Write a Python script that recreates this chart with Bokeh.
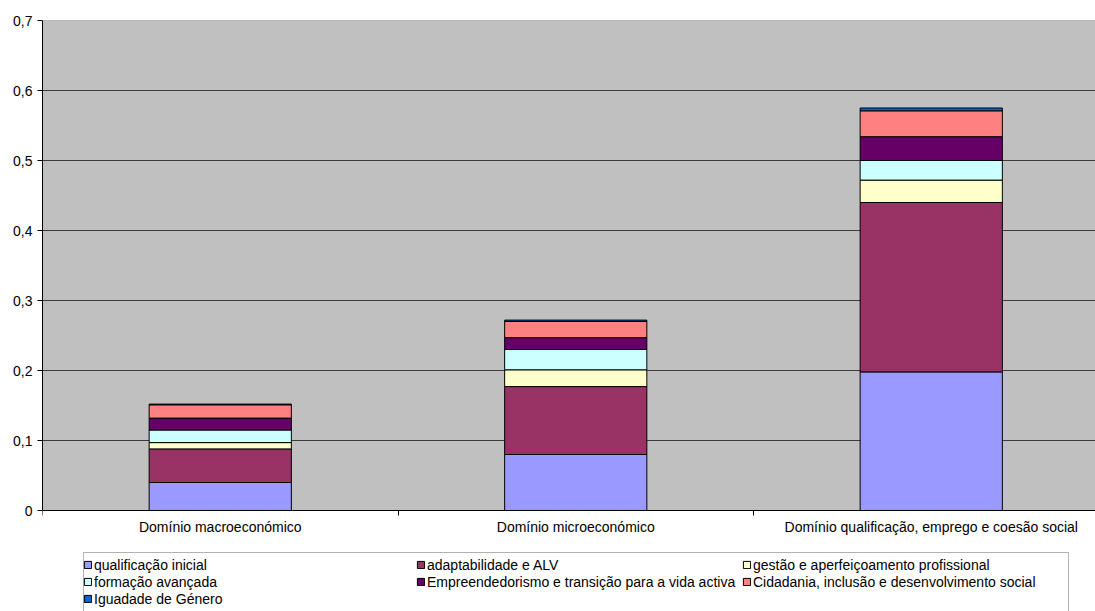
from bokeh.plotting import figure
from bokeh.models import (ColumnDataSource, Range1d, FixedTicker, Legend,
                          LegendItem, BoxAnnotation, Span)
from bokeh.embed import file_html
from bokeh.resources import INLINE

# Categories (domains) and the stacked series (axes of intervention)
dominios = ["Domínio macroeconómico",
            "Domínio microeconómico",
            "Domínio qualificação, emprego e coesão social"]

qualificacao_inicial = [0.040, 0.080, 0.198]
adaptabilidade_alv = [0.048, 0.097, 0.242]
gestao_aperfeicoamento = [0.009, 0.024, 0.032]
formacao_avancada = [0.018, 0.029, 0.028]
empreendedorismo = [0.017, 0.017, 0.034]
cidadania_inclusao = [0.019, 0.023, 0.037]
igualdade_genero = [0.001, 0.002, 0.004]

series_nomes = ["qualificação inicial",
                "adaptabilidade e ALV",
                "gestão e aperfeiçoamento profissional",
                "formação avançada",
                "Empreendedorismo e transição para a vida activa",
                "Cidadania, inclusão e desenvolvimento social",
                "Iguadade de Género"]
series_cores = ["#9999FF", "#993366", "#FFFFCC", "#CCFFFF",
                "#660066", "#FF8080", "#0066CC"]

y_ticks = [0.0, 0.1, 0.2, 0.3, 0.4, 0.5, 0.6, 0.7]
y_tick_labels = ["0", "0,1", "0,2", "0,3", "0,4", "0,5", "0,6", "0,7"]
Y_MAX = 0.7

FONT = "Liberation Sans"
FONT_SIZE = "14px"

# Page geometry (pixels)
W, H = 1095, 611
LEFT, TOP = 42, 20
PLOT_H = 490                       # height of the grey plotting area
PX_PER_Y = PLOT_H / Y_MAX
PX_PER_X = 355.5                   # width of one category slot
# The frame runs to the bottom of the page so the legend can sit in it.
y_bottom = -(H - TOP - PLOT_H) / PX_PER_Y
x_right = (W - LEFT) / PX_PER_X

keys = [f"s{i}" for i in range(7)]
centros = [i + 0.5 for i in range(len(dominios))]
source = ColumnDataSource(dict(
    x=centros,
    s0=qualificacao_inicial, s1=adaptabilidade_alv, s2=gestao_aperfeicoamento,
    s3=formacao_avancada, s4=empreendedorismo, s5=cidadania_inclusao,
    s6=igualdade_genero,
))

p = figure(width=W, height=H, output_backend="svg", toolbar_location=None,
           x_range=Range1d(0, x_right), y_range=Range1d(y_bottom, Y_MAX),
           min_border_left=LEFT, min_border_right=0, min_border_top=TOP,
           min_border_bottom=0)

p.background_fill_color = "white"
p.border_fill_color = "white"
p.outline_line_color = None

# Grey plotting area between 0 and the top of the value axis
p.add_layout(BoxAnnotation(bottom=0, top=Y_MAX, fill_color="#C0C0C0",
                           fill_alpha=1.0, line_color=None, level="image"))
p.add_layout(Span(location=Y_MAX, dimension="width", line_color="#808080",
                  line_width=1))

renderers = p.vbar_stack(keys, x="x", width=0.4, source=source,
                         fill_color=series_cores, line_color="black",
                         line_width=1)

# Grid
p.xgrid.grid_line_color = None
p.ygrid.ticker = FixedTicker(ticks=y_ticks[1:-1])
p.ygrid.grid_line_color = "#3c3c3c"
p.ygrid.grid_line_width = 1

# Y axis
ya = p.yaxis[0]
ya.ticker = FixedTicker(ticks=y_ticks)
ya.bounds = (0, Y_MAX)
ya.major_label_overrides = {t: l for t, l in zip(y_ticks, y_tick_labels)}
ya.axis_line_color = "black"
ya.major_tick_line_color = "black"
ya.major_tick_in = 0
ya.major_tick_out = 5
ya.minor_tick_line_color = None
ya.major_label_standoff = 5
ya.major_label_text_font = FONT
ya.major_label_text_font_size = FONT_SIZE
ya.major_label_text_color = "black"

# X axis at value 0: labels at category centres, ticks at boundaries
xa = p.xaxis[0]
xa.fixed_location = 0
xa.ticker = FixedTicker(ticks=centros, minor_ticks=[0, 1, 2, 3])
xa.major_label_overrides = {c: d for c, d in zip(centros, dominios)}
xa.axis_line_color = "black"
xa.major_tick_in = 0
xa.major_tick_out = 0
xa.minor_tick_in = 0
xa.minor_tick_out = 5
xa.minor_tick_line_color = "black"
xa.major_label_standoff = 3
xa.major_label_text_font = FONT
xa.major_label_text_font_size = FONT_SIZE
xa.major_label_text_color = "black"

# Legend frame below the chart
box_left = (83 - LEFT) / PX_PER_X
box_right = (1068 - LEFT) / PX_PER_X
box_top = -(552 - TOP - PLOT_H) / PX_PER_Y
p.add_layout(BoxAnnotation(left=box_left, right=box_right, top=box_top,
                           bottom=y_bottom * 2, fill_color="white",
                           fill_alpha=1.0, line_color="black", line_width=1))

ROW_H = 17
FIRST_ROW_TOP = 556
colunas = [([0, 3, 6], 83), ([1, 4], 416), ([2, 5], 742)]
for idx, gx in colunas:
    items = [LegendItem(label=series_nomes[i], renderers=[renderers[i]])
             for i in idx]
    n = len(idx)
    legend_bottom = FIRST_ROW_TOP + ROW_H * n
    leg = Legend(items=items, location=(gx - LEFT, H - legend_bottom),
                 orientation="vertical", padding=0, margin=0, spacing=0,
                 glyph_width=9, glyph_height=9, label_height=ROW_H,
                 label_standoff=2, label_text_font=FONT,
                 label_text_font_size=FONT_SIZE, label_text_color="black",
                 border_line_color=None, background_fill_alpha=0)
    p.add_layout(leg, "center")

open("out.html", "w").write(file_html(p, INLINE))
